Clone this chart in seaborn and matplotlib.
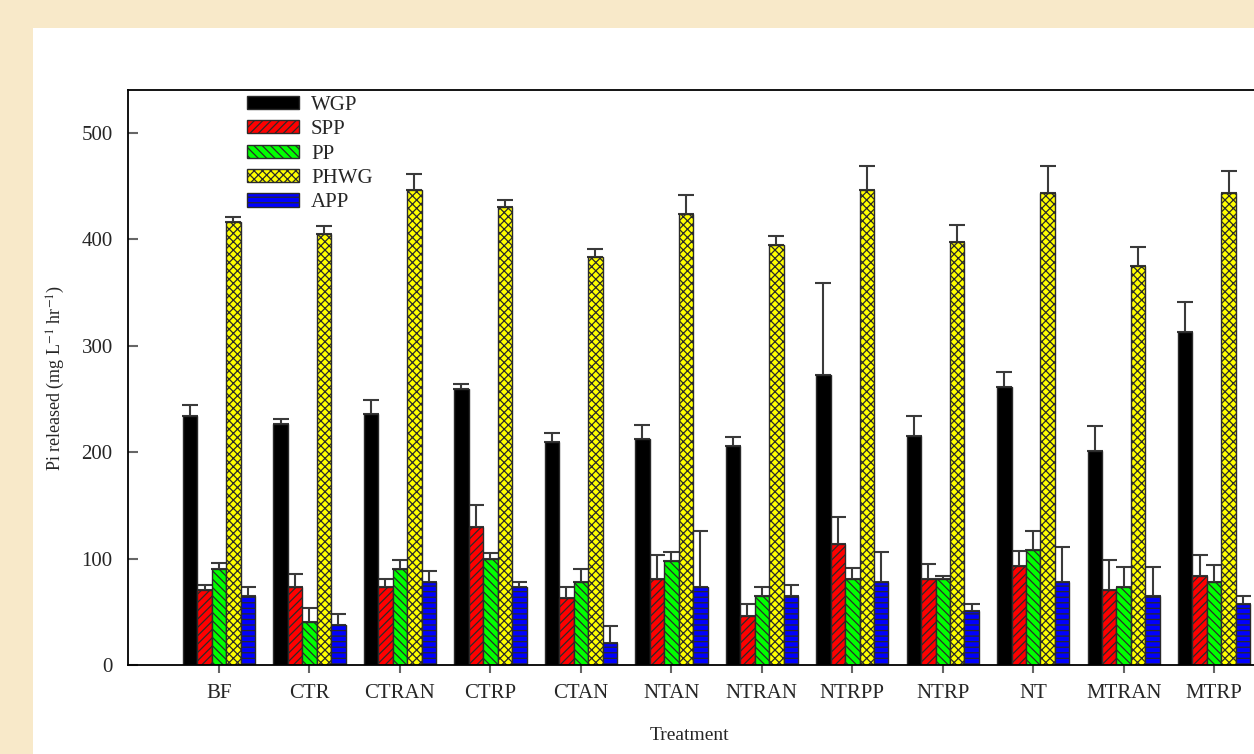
import numpy as np
import pandas as pd
import matplotlib
matplotlib.use("Agg")
import matplotlib.pyplot as plt
from matplotlib.patches import Rectangle
import seaborn as sns

# Treatments along the x axis
treatments = ["BF", "CTR", "CTRAN", "CTRP", "CTAN", "NTAN", "NTRAN",
              "NTRPP", "NTRP", "NT", "MTRAN", "MTRP"]
fractions = ["WGP", "SPP", "PP", "PHWG", "APP"]

# Mean Pi released (mg L-1 hr-1) per fraction
wgp = [234, 226, 236, 259, 209, 212, 206, 272, 215, 261, 201, 313]
spp = [70, 73, 73, 130, 63, 81, 46, 114, 81, 93, 70, 84]
pp = [90, 40, 90, 100, 78, 98, 65, 81, 81, 108, 73, 78]
phwg = [416, 405, 446, 430, 383, 424, 394, 446, 397, 443, 375, 443]
app = [65, 38, 78, 73, 21, 73, 65, 78, 51, 78, 65, 57]

# Standard errors (upper bars only)
wgp_err = [10, 5, 13, 5, 9, 13, 8, 87, 19, 14, 23, 28]
spp_err = [5, 12, 8, 20, 10, 22, 11, 25, 14, 14, 29, 19]
pp_err = [6, 14, 9, 5, 12, 8, 8, 10, 3, 18, 19, 16]
phwg_err = [5, 7, 15, 7, 8, 17, 9, 23, 16, 26, 18, 21]
app_err = [8, 10, 10, 5, 16, 53, 10, 28, 6, 33, 27, 8]

values = [wgp, spp, pp, phwg, app]
errors = [wgp_err, spp_err, pp_err, phwg_err, app_err]
colors = ["#000000", "#FF0000", "#00FF00", "#FFFF00", "#0000FF"]
hatches = ["", "////", "\\\\\\\\", "xxxx", "---"]

df = pd.DataFrame({
    "Treatment": np.repeat([treatments], len(fractions), axis=0).ravel(),
    "Fraction": np.repeat(fractions, len(treatments)),
    "Pi": np.concatenate(values),
})

sns.set_style("ticks")
plt.rcParams["font.family"] = ["Liberation Serif", "DejaVu Serif"]
plt.rcParams["mathtext.fontset"] = "stix"
plt.rcParams["hatch.linewidth"] = 0.9

W, H = 1254, 754
fig = plt.figure(figsize=(W / 100, H / 100), dpi=100, facecolor="#F8E9C9")
# white page area behind the plot
fig.patches.append(Rectangle((33 / W, 0), 1 - 33 / W, (H - 28) / H,
                             transform=fig.transFigure, facecolor="white",
                             edgecolor="none", zorder=-10))

ax = fig.add_axes([128 / W, (H - 665) / H, (W - 128) / W, (665 - 90) / H])
ax.set_zorder(1)
ax.set_facecolor("white")

sns.barplot(data=df, x="Treatment", y="Pi", hue="Fraction",
            hue_order=fractions, order=treatments, palette=colors,
            width=0.8, errorbar=None, edgecolor="#2a2a2a", linewidth=1.0,
            saturation=1.0, ax=ax, legend=False, zorder=2)

for cont, hatch, err in zip(ax.containers, hatches, errors):
    xs, ys = [], []
    for patch in cont:
        patch.set_hatch(hatch)
        xs.append(patch.get_x() + patch.get_width() / 2)
        ys.append(patch.get_height())
    ax.errorbar(xs, ys, yerr=[np.zeros(len(err)), err], fmt="none",
                ecolor="#3a3a3a", elinewidth=1.5, capsize=5.5,
                capthick=1.5, zorder=1)

ax.legend(ax.containers[:5], fractions, loc="upper left",
          bbox_to_anchor=(0.106, 0.99), frameon=False, fontsize=15,
          handlelength=2.5, handleheight=0.6, labelspacing=0.26,
          handletextpad=0.55, borderpad=0, borderaxespad=0)

ax.set_xlim(-1.006, 11.44)
ax.set_ylim(0, 540)
ax.set_yticks([0, 100, 200, 300, 400, 500])
ax.tick_params(axis="y", direction="in", length=7, width=1.5,
               color="#666666", labelsize=15, pad=11)
ax.tick_params(axis="x", direction="out", length=6, width=1.5,
               color="#666666", labelsize=15, pad=8)

for side in ("left", "bottom", "top"):
    ax.spines[side].set_linewidth(1.3)
    ax.spines[side].set_color("black")
ax.spines["right"].set_visible(False)

ax.set_xlabel("Treatment", fontsize=14)
ax.xaxis.set_label_coords((690 - 128) / (W - 128), -0.108)
ax.set_ylabel(r"Pi released (mg L$^{-1}$ hr$^{-1}$)", fontsize=13)
ax.yaxis.set_label_coords(-(128 - 67) / (W - 128), 0.5)

fig.savefig("out.png", dpi=100, facecolor=fig.get_facecolor())
